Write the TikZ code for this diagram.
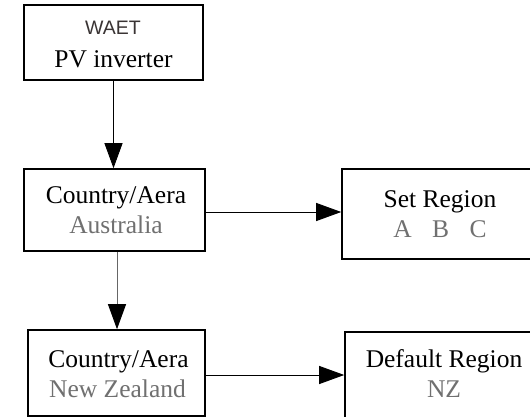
\documentclass[tikz,border=0pt]{standalone}
\usepackage{fontspec}
\setmainfont{Liberation Serif}
\newfontfamily\waetfont{Liberation Sans}
\usetikzlibrary{arrows.meta,calc}
\definecolor{txtgray}{HTML}{707070}
\definecolor{waetcol}{HTML}{3A3434}
\begin{document}
\begin{tikzpicture}[x=1pt,y=-1pt,
  box/.style={draw=black,line width=1.6pt,fill=white,inner sep=0pt},
  lbl/.style={anchor=base,inner sep=0pt,font=\fontsize{25.5}{30}\selectfont},
  sub/.style={lbl,text=txtgray},
  arr/.style={line width=0.9pt,-{Triangle[length=25pt,width=18pt,color=black]}}]
\useasboundingbox (0,0) rectangle (530,417);
% boxes
\node[box,minimum width=179pt,minimum height=75pt] (b1) at (113.5,42.5) {};
\node[box,minimum width=181pt,minimum height=82pt] (b2) at (114.5,210) {};
\node[box,minimum width=177pt,minimum height=86pt] (b3) at (116.5,373) {};
\node[box,minimum width=196pt,minimum height=90pt] (b4) at (440,214) {};
\node[box,minimum width=198pt,minimum height=86pt] (b5) at (444,375) {};
% texts
\node[anchor=base,inner sep=0pt,font=\waetfont\fontsize{19.5}{22}\selectfont,text=waetcol] (t1a) at (113,35) {WAET};
\node[lbl] (t1b) at (113.5,68) {PV inverter};
\node[lbl] (t2a) at (116,203) {Country/Aera};
\node[sub] (t2b) at (116,233) {Australia};
\node[lbl] (t3a) at (118.5,367) {Country/Aera};
\node[sub] (t3b) at (117.5,397) {New Zealand};
\node[lbl] (t4a) at (440,207) {Set Region};
\node[sub] (t4b) at (440,237) {A\hspace{0.8em}B\hspace{0.8em}C};
\node[lbl] (t5a) at (444,367) {Default Region};
\node[sub] (t5b) at (444,397) {NZ};
% connectors
\draw[arr] (b1.south) -- (b1.south |- b2.north);
\draw[arr,draw=black!60] ($(b2.south)+(2.5,0)$) coordinate (c1) -- (c1 |- b3.north);
\draw[arr] ($(b2.east)+(0,2)$) coordinate (c2) -- (c2 -| b4.west);
\draw[arr] ($(b3.east)+(0,2)$) coordinate (c3) -- (c3 -| b5.west);
\end{tikzpicture}
\end{document}
